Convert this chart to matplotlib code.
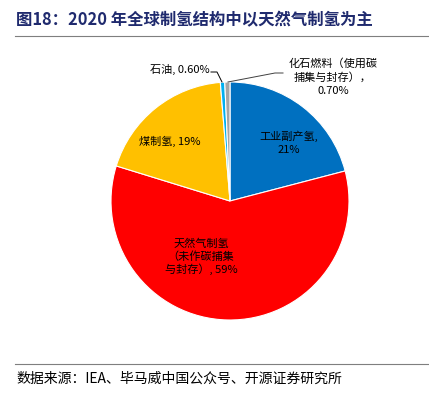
import matplotlib.pyplot as plt
from matplotlib.lines import Line2D

plt.rcParams['font.family'] = ['Noto Sans CJK SC', 'DejaVu Sans']

# data (clockwise from 12 o'clock)
labels = ["工业副产氢", "天然气制氢（未作碳捕集与封存）", "煤制氢", "石油", "化石燃料（使用碳捕集与封存）"]
shares = [21, 59, 19, 0.6, 0.7]
colors = ["#0070C0", "#FF0000", "#FFC000", "#00B0F0", "#A5A5A5"]

W, H = 429, 394
fig = plt.figure(figsize=(W / 100, H / 100), dpi=100)

# pie: centre (230, 201) px, radius 119 px
cx, cy, r = 230, 201, 119
ax = fig.add_axes([(cx - r) / W, (H - cy - r) / H, 2 * r / W, 2 * r / H])
ax.pie(shares, colors=colors, startangle=90, counterclock=False,
       wedgeprops=dict(edgecolor="white", linewidth=0.8))
ax.set_xlim(-1, 1)
ax.set_ylim(-1, 1)
ax.set_aspect("equal")
ax.axis("off")


def d(px, py):
    return (px - cx) / r, (cy - py) / r


fs = 8
ax.text(*d(289, 143), "工业副产氢,\n21%", ha="center", va="center", fontsize=fs, linespacing=1.3)
ax.text(*d(170, 141), "煤制氢, 19%", ha="center", va="center", fontsize=fs)
ax.text(*d(201, 257), "天然气制氢\n（未作碳捕集\n与封存）, 59%", ha="center", va="center",
        fontsize=fs, linespacing=1.2)
ax.text(*d(180, 69), "石油, 0.60%", ha="center", va="center", fontsize=fs, clip_on=False)
ax.text(*d(333, 77), "化石燃料（使用碳\n捕集与封存），\n0.70%", ha="center", va="center",
        fontsize=fs, linespacing=1.35, clip_on=False)

# leader lines
p = [d(211, 72), d(217, 72), d(222, 82)]
ax.plot([q[0] for q in p], [q[1] for q in p], color="black", lw=0.7, clip_on=False)
p = [d(228, 82), d(275, 73), d(283, 73)]
ax.plot([q[0] for q in p], [q[1] for q in p], color="#404040", lw=0.7, clip_on=False)

# title and footer
fig.text(16 / W, 1 - 20 / H, "图18：2020 年全球制氢结构中以天然气制氢为主", ha="left", va="center",
         fontsize=11.8, fontweight="bold", color="#1F2A6E")
fig.add_artist(Line2D([15 / W, 1], [1 - 36 / H] * 2, color="#7F7F7F", lw=0.8))
fig.add_artist(Line2D([15 / W, 1], [1 - 364 / H] * 2, color="#7F7F7F", lw=0.8))
fig.text(16 / W, 1 - 379 / H, "数据来源：IEA、毕马威中国公众号、开源证券研究所", ha="left", va="center",
         fontsize=10, color="black")

fig.savefig("out.png", dpi=100)
